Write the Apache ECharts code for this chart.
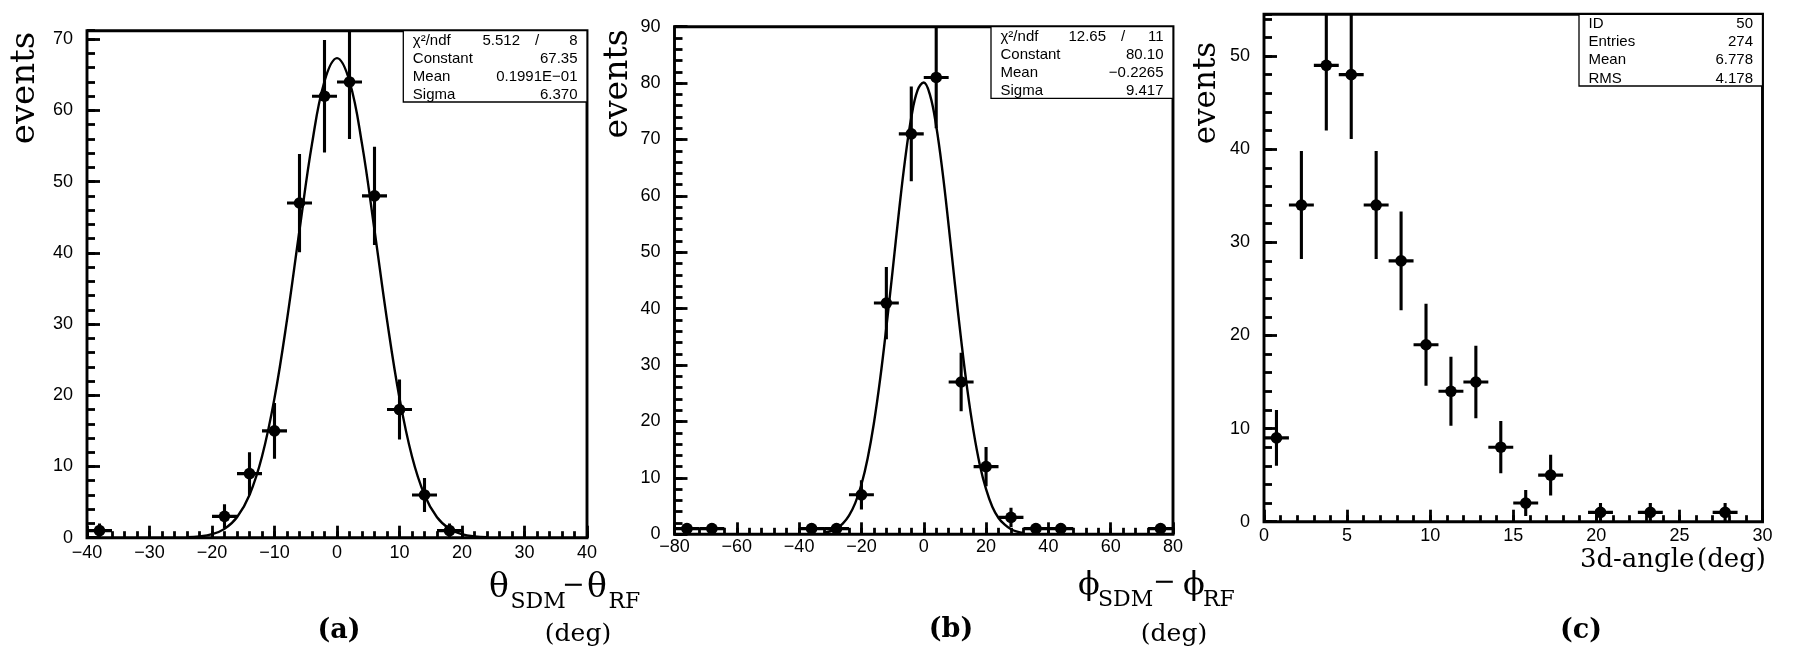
<!DOCTYPE html>
<html><head><meta charset="utf-8">
<script src="https://cdn.jsdelivr.net/npm/echarts@6/dist/echarts.min.js"></script>
<style>html,body{margin:0;padding:0;background:#fff}#c{width:1816px;height:654px}</style>
</head><body><div id="c"></div>
<script>
// ---------------- data ----------------
// (a) theta_SDM - theta_RF
const thetaCenters = [-38, -18, -14, -10, -6, -2, 2, 6, 10, 14, 18];
const thetaCounts  = [1, 3, 9, 15, 47, 62, 64, 48, 18, 6, 1];
const thetaErrors  = [1, 1.7, 3, 3.9, 6.9, 7.9, 8, 6.9, 4.2, 2.4, 1];
const thetaBinHalf = 2;
const thetaFitX = [-24, -22, -20, -18, -16, -14, -12, -10, -8, -6, -4, -2, 0, 2, 4, 6, 8, 10, 12, 14, 16, 18, 20, 22, 24];
const thetaFitY = [0.06, 0.17, 0.49, 1.24, 2.87, 6.0, 11.4, 19.6, 30.6, 43.2, 55.3, 64.1, 67.35, 64.1, 55.3, 43.2, 30.6, 19.6, 11.4, 6.0, 2.87, 1.24, 0.49, 0.17, 0.06];
const thetaStatLabels = ['\u03c7\u00b2/ndf', 'Constant', 'Mean', 'Sigma'];
const thetaStatValues = ['8', '67.35', '0.1991E\u221201', '6.370'];
const thetaChi2 = '5.512';

// (b) phi_SDM - phi_RF
const phiCenters = [-76, -68, -36, -28, -20, -12, -4, 4, 12, 20, 28, 36, 44, 76];
const phiCounts  = [1, 1, 1, 1, 7, 41, 71, 81, 27, 12, 3, 1, 1, 1];
const phiErrors  = [1, 1, 1, 1, 2.6, 6.4, 8.4, 9, 5.2, 3.5, 1.7, 1, 1, 1];
const phiBinHalf = 4;
const phiFitX = [-32, -30, -28, -26, -24, -22, -20, -18, -16, -14, -12, -10, -8, -6, -4, -2, 0, 2, 4, 6, 8, 10, 12, 14, 16, 18, 20, 22, 24, 26, 28, 30, 32];
const phiFitY = [0.27, 0.54, 1.03, 1.89, 3.31, 5.53, 8.83, 13.5, 19.7, 27.5, 36.7, 46.7, 57.0, 66.4, 73.9, 78.7, 80.1, 77.9, 72.4, 64.4, 54.7, 44.4, 34.5, 25.6, 18.2, 12.3, 8.0, 4.9, 2.9, 1.7, 0.9, 0.46, 0.23];
const phiStatLabels = ['\u03c7\u00b2/ndf', 'Constant', 'Mean', 'Sigma'];
const phiStatValues = ['11', '80.10', '\u22120.2265', '9.417'];
const phiChi2 = '12.65';

// (c) 3d-angle
const angleCenters = [0.75, 2.25, 3.75, 5.25, 6.75, 8.25, 9.75, 11.25, 12.75, 14.25, 15.75, 17.25, 20.25, 23.25, 27.75];
const angleCounts  = [9, 34, 49, 48, 34, 28, 19, 14, 15, 8, 2, 5, 1, 1, 1];
const angleErrors  = [3, 5.8, 7, 6.9, 5.8, 5.3, 4.4, 3.7, 3.9, 2.8, 1.4, 2.2, 1, 1, 1];
const angleBinHalf = 0.75;
const angleStatLabels = ['ID', 'Entries', 'Mean', 'RMS'];
const angleStatValues = ['50', '274', '6.778', '4.178'];

// ---------------- layout ----------------
const SANS = '"Liberation Sans", Arial, sans-serif';
const SERIF = '"DejaVu Serif", serif';
const panels = [
  { grid: {left: 87, top: 30.7, width: 500, height: 507},
    x: {min: -40, max: 40, major: 10, minor: 2, margin: 6.5},
    y: {min: 0, max: 71.2, major: 10, minor: 2, hideMax: true} },
  { grid: {left: 674.5, top: 26.7, width: 498.5, height: 507.6},
    x: {min: -80, max: 80, major: 20, minor: 4, margin: 4},
    y: {min: 0, max: 90, major: 10, minor: 2, hideMax: false} },
  { grid: {left: 1264, top: 14.3, width: 498.5, height: 507.4},
    x: {min: 0, max: 30, major: 5, minor: 1, margin: 5},
    y: {min: 0, max: 54.48, major: 10, minor: 2, hideMax: true} }
];

const fmt = v => String(v).replace('-', '\u2212');
const grids = [], xAxes = [], yAxes = [], series = [];
panels.forEach((p, i) => {
  grids.push(Object.assign({show: true, borderColor: '#000', borderWidth: 2.9, backgroundColor: '#fff'}, p.grid));
  const tickStyle = {color: '#000', width: 2.8};
  const xBase = {gridIndex: i, type: 'value', min: p.x.min, max: p.x.max, position: 'bottom',
    axisLine: {show: false, onZero: false}, splitLine: {show: false}};
  xAxes.push(Object.assign({}, xBase, {interval: p.x.major,
    axisTick: {show: true, inside: true, length: 12, lineStyle: tickStyle},
    axisLabel: {margin: p.x.margin, fontSize: 18, fontFamily: SANS, color: '#000', formatter: fmt}}));
  xAxes.push(Object.assign({}, xBase, {interval: p.x.minor,
    axisTick: {show: true, inside: true, length: 6.5, lineStyle: tickStyle},
    axisLabel: {show: false}}));
  const yBase = {gridIndex: i, type: 'value', min: p.y.min, max: p.y.max, position: 'left',
    axisLine: {show: false, onZero: false}, splitLine: {show: false}};
  yAxes.push(Object.assign({}, yBase, {interval: p.y.major,
    axisTick: {show: true, inside: true, length: 13, lineStyle: tickStyle},
    axisLabel: {margin: 14, fontSize: 18, fontFamily: SANS, color: '#000', showMaxLabel: !p.y.hideMax, formatter: fmt}}));
  yAxes.push(Object.assign({}, yBase, {interval: p.y.minor,
    axisTick: {show: true, inside: true, length: 8, lineStyle: tickStyle},
    axisLabel: {show: false}}));
});

function errSeries(i, centers, counts, errors, half) {
  return {
    type: 'custom', xAxisIndex: 2 * i, yAxisIndex: 2 * i, clip: true, z: 3,
    data: centers.map((c, k) => [c, counts[k], errors[k], half]),
    renderItem: (params, api) => {
      const x = api.value(0), y = api.value(1), e = api.value(2), h = api.value(3);
      const l = api.coord([x - h, y]), r = api.coord([x + h, y]);
      const b = api.coord([x, y - e]), t = api.coord([x, y + e]), c = api.coord([x, y]);
      const st = {stroke: '#000', lineWidth: 3.1};
      return {type: 'group', children: [
        {type: 'line', shape: {x1: l[0], y1: l[1], x2: r[0], y2: r[1]}, style: st},
        {type: 'line', shape: {x1: b[0], y1: b[1], x2: t[0], y2: t[1]}, style: st},
        {type: 'circle', shape: {cx: c[0], cy: c[1], r: 5.8}, style: {fill: '#000'}}
      ]};
    }
  };
}
function fitSeries(i, xs, ys) {
  return {type: 'line', xAxisIndex: 2 * i, yAxisIndex: 2 * i, data: xs.map((x, k) => [x, ys[k]]),
    smooth: 0.4, showSymbol: false, clip: true, z: 4, lineStyle: {color: '#000', width: 2.4}};
}
series.push(errSeries(0, thetaCenters, thetaCounts, thetaErrors, thetaBinHalf));
series.push(fitSeries(0, thetaFitX, thetaFitY));
series.push(errSeries(1, phiCenters, phiCounts, phiErrors, phiBinHalf));
series.push(fitSeries(1, phiFitX, phiFitY));
series.push(errSeries(2, angleCenters, angleCounts, angleErrors, angleBinHalf));

// ---------------- text / stat boxes ----------------
const graphic = [];
function txt(x, y, text, font, align, valign, extra) {
  graphic.push(Object.assign({type: 'text', x: x, y: y, z: 100,
    style: {text: text, font: font, fill: '#000', align: align, textAlign: align,
      verticalAlign: valign, textVerticalAlign: valign}}, extra || {}));
}
const rowDy = [9.8, 27.8, 46, 64.3];
function statBox(p, boxW, boxH, labels, values, chi2) {
  const right = p.grid.left + p.grid.width, top = p.grid.top, left = right - boxW;
  graphic.push({type: 'rect', z: 99, shape: {x: left, y: top, width: boxW, height: boxH},
    style: {fill: '#fff', stroke: '#000', lineWidth: 1.3}});
  const f = '15px ' + SANS;
  labels.forEach((l, k) => {
    txt(left + 9.5, top + rowDy[k], l, f, 'left', 'middle');
    txt(right - 9.5, top + rowDy[k], values[k], f, 'right', 'middle');
  });
  if (chi2) {
    txt(right - 67, top + rowDy[0], chi2, f, 'right', 'middle');
    txt(right - 50, top + rowDy[0], '/', f, 'center', 'middle');
  }
}
statBox(panels[0], 183.7, 71.3, thetaStatLabels, thetaStatValues, thetaChi2);
statBox(panels[1], 182, 71.6, phiStatLabels, phiStatValues, phiChi2);
statBox(panels[2], 183.5, 71.7, angleStatLabels, angleStatValues, null);

// y-axis titles
txt(25.5, 88, 'events', '34px ' + SERIF, 'center', 'middle', {rotation: Math.PI / 2});
txt(618, 84, 'events', '33px ' + SERIF, 'center', 'middle', {rotation: Math.PI / 2});
txt(1206.5, 93, 'events', '31px ' + SERIF, 'center', 'middle', {rotation: Math.PI / 2});

// x-axis titles
// (a)
txt(489, 588, '\u03b8', '33px ' + SERIF, 'left', 'middle');
txt(510.5, 602, 'SDM', '22px ' + SERIF, 'left', 'middle');
txt(562, 586, '\u2212', '27px ' + SERIF, 'left', 'middle');
txt(587, 588, '\u03b8', '33px ' + SERIF, 'left', 'middle');
txt(608.5, 602, 'RF', '22px ' + SERIF, 'left', 'middle');
txt(578, 634, '(deg)', '25px ' + SERIF, 'center', 'middle');
// (b)
txt(1078, 586, '\u03d5', '32px ' + SERIF, 'left', 'middle');
txt(1098, 600, 'SDM', '22px ' + SERIF, 'left', 'middle');
txt(1153, 583, '\u2212', '27px ' + SERIF, 'left', 'middle');
txt(1183, 586, '\u03d5', '32px ' + SERIF, 'left', 'middle');
txt(1203, 600, 'RF', '22px ' + SERIF, 'left', 'middle');
txt(1174, 634, '(deg)', '25px ' + SERIF, 'center', 'middle');
// (c)
txt(1766, 560, '3d-angle\u200a(deg)', '26px ' + SERIF, 'right', 'middle');

// panel captions
txt(339, 631, '(a)', 'bold 27px ' + SERIF, 'center', 'middle');
txt(951, 630, '(b)', 'bold 27px ' + SERIF, 'center', 'middle');
txt(1581, 631, '(c)', 'bold 27px ' + SERIF, 'center', 'middle');

const chart = echarts.init(document.getElementById('c'), null, {renderer: 'canvas', width: 1816, height: 654});
chart.setOption({
  animation: false,
  backgroundColor: '#fff',
  grid: grids, xAxis: xAxes, yAxis: yAxes, series: series, graphic: graphic
});
</script>
</body></html>
